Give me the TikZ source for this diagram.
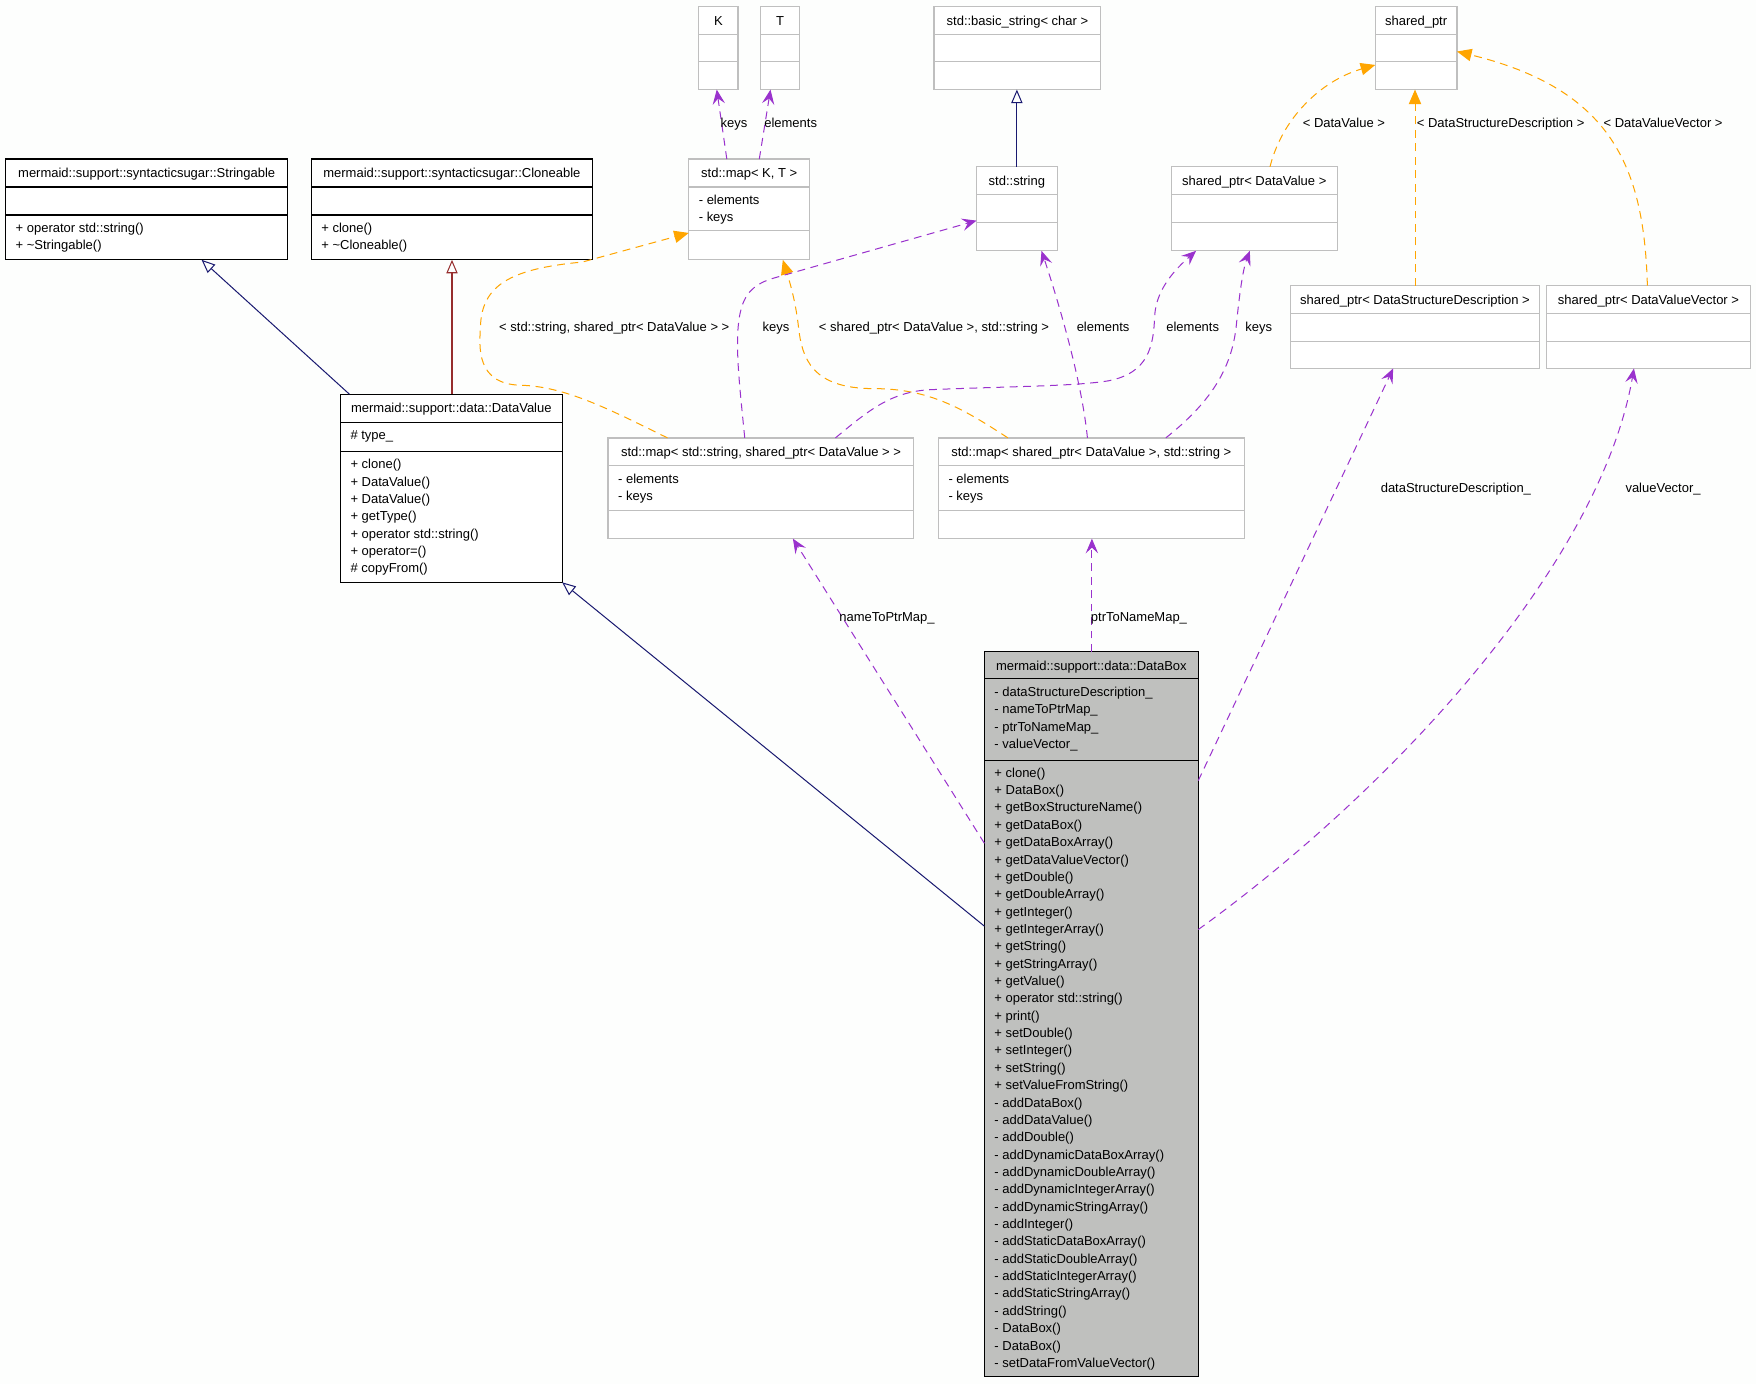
\documentclass[tikz,border=0pt]{standalone}
\usepackage{fontspec}
\setmainfont{Liberation Sans}
\usetikzlibrary{arrows.meta,calc}
\definecolor{bgc}{RGB}{253,254,253}
\definecolor{navyc}{RGB}{25,25,112}
\definecolor{redc}{RGB}{150,45,45}
\definecolor{purplec}{RGB}{154,50,205}
\definecolor{orangec}{RGB}{255,165,0}
\definecolor{greyc}{RGB}{191,191,191}
\definecolor{dbfill}{RGB}{191,192,190}

\tikzset{
  txt/.style={font=\fontsize{11.6}{15.5}\selectfont, inner sep=0pt, outer sep=0pt, text=black},
  blackbox/.style={draw=black, line width=1.1pt, fill=white, inner sep=0pt, outer sep=0pt},
  blackboxsep/.style={draw=black, line width=1.1pt},
  greybox/.style={draw=greyc, line width=1.1pt, fill=white, inner sep=0pt, outer sep=0pt},
  greyboxsep/.style={draw=greyc, line width=1.1pt},
  dbbox/.style={draw=black, line width=1.1pt, fill=dbfill, inner sep=0pt, outer sep=0pt},
  dbboxsep/.style={draw=black, line width=1.1pt},
  inhnavy/.style={draw=navyc, line width=0.9pt, -{Triangle[open, length=12pt, width=10pt]}},
  inhred/.style={draw=redc, line width=0.9pt, -{Triangle[open, length=12pt, width=10pt]}},
  usage/.style={draw=purplec, line width=0.9pt, dash pattern=on 7pt off 5pt, -{Stealth[length=13pt, width=11pt, inset=5pt]}},
  tmpl/.style={draw=orangec, line width=0.9pt, dash pattern=on 7pt off 5pt, -{Triangle[length=13pt, width=11pt]}},
  lbl/.style={txt, anchor=base},
}

% name, style, x1, y1, x2, y2, sep1, sep2, title
\newcommand{\umlclass}[9]{%
  \node[#2, anchor=north west, minimum width={(#5-#3)*1pt}, minimum height={(#6-#4)*1pt}] (#1) at (#3,#4) {};
  \draw[#2sep] (#3,#7) -- (#5,#7) (#3,#8) -- (#5,#8);
  \node[txt, anchor=base] (#1-title) at ({(#3+#5)/2},{#4+16.5}) {#9};
}
% prefix, x, first baseline, list
\newcommand{\umlmembers}[4]{%
  \foreach \mtext [count=\mi from 0] in {#4} {\node[txt, anchor=base west] (#1-\mi) at (#2,{#3+\mi*15.5}) {\mtext};}
}

\begin{document}
\begin{tikzpicture}[x=1pt, y=-1pt]
\useasboundingbox (0,0) rectangle (1568,1236);
\fill[bgc] (0,0) rectangle (1568,1236);

% classes
\umlclass{str}{blackbox}{5}{142}{257}{232}{167}{192}{mermaid::support::syntacticsugar::Stringable}
\umlmembers{strm}{14}{207.5}{+ operator std::string(), + \textasciitilde Stringable()}
\umlclass{cln}{blackbox}{278}{142}{529}{232}{167}{192}{mermaid::support::syntacticsugar::Cloneable}
\umlmembers{clnm}{287}{207.5}{+ clone(), + \textasciitilde Cloneable()}
\umlclass{K}{greybox}{624}{6}{659}{80}{31}{55}{K}
\umlclass{T}{greybox}{679}{6}{714}{80}{31}{55}{T}
\umlclass{bstr}{greybox}{834}{6}{983}{80}{31}{55}{std::basic\_string< char >}
\umlclass{sp}{greybox}{1228}{6}{1301}{80}{31}{55}{shared\_ptr}
\umlclass{mapkt}{greybox}{615}{142}{723}{232}{167}{206}{std::map< K, T >}
\umlmembers{mapktf}{624}{182.5}{- elements, - keys}
\umlclass{stdstr}{greybox}{872}{149}{944}{224}{174}{199}{std::string}
\umlclass{spdv}{greybox}{1046}{149}{1194}{224}{174}{199}{shared\_ptr< DataValue >}
\umlclass{spdsd}{greybox}{1152}{255}{1375}{329}{280}{305}{shared\_ptr< DataStructureDescription >}
\umlclass{spdvv}{greybox}{1381}{255}{1563}{329}{280}{305}{shared\_ptr< DataValueVector >}
\umlclass{dv}{blackbox}{304}{352}{502}{520}{377}{403}{mermaid::support::data::DataValue}
\umlmembers{dvf}{313}{392.5}{\# type\_}
\umlmembers{dvm}{313}{418.5}{+ clone(), + DataValue(), + DataValue(), + getType(), + operator std::string(), + operator=(), \# copyFrom()}
\umlclass{mapsp}{greybox}{543}{391}{816}{481}{416}{456}{std::map< std::string, shared\_ptr< DataValue > >}
\umlmembers{mapspf}{552}{431.5}{- elements, - keys}
\umlclass{mapps}{greybox}{838}{391}{1111}{481}{416}{456}{std::map< shared\_ptr< DataValue >, std::string >}
\umlmembers{mappsf}{847}{431.5}{- elements, - keys}
\umlclass{db}{dbbox}{879}{582}{1070}{1229}{606}{679}{mermaid::support::data::DataBox}
\umlmembers{dbf}{888}{622}{- dataStructureDescription\_, - nameToPtrMap\_, - ptrToNameMap\_, - valueVector\_}
\umlmembers{dbm}{888}{694}{+ clone(), + DataBox(), + getBoxStructureName(), + getDataBox(), + getDataBoxArray(), + getDataValueVector(), + getDouble(), + getDoubleArray(), + getInteger(), + getIntegerArray(), + getString(), + getStringArray(), + getValue(), + operator std::string(), + print(), + setDouble(), + setInteger(), + setString(), + setValueFromString(), - addDataBox(), - addDataValue(), - addDouble(), - addDynamicDataBoxArray(), - addDynamicDoubleArray(), - addDynamicIntegerArray(), - addDynamicStringArray(), - addInteger(), - addStaticDataBoxArray(), - addStaticDoubleArray(), - addStaticIntegerArray(), - addStaticStringArray(), - addString(), - DataBox(), - DataBox(), - setDataFromValueVector()}

% inheritance
\draw[inhnavy] ([xshift=8pt]dv.north west) -- ([xshift=175pt]str.south west);
\draw[inhred] ([xshift=99.6pt]dv.north west) -- ([xshift=125.6pt]cln.south west);
\draw[inhnavy] ([yshift=-245pt]db.north west) -- (dv.south east);
\draw[inhnavy] (stdstr.north) -- (stdstr.north |- bstr.south);

% usage in std::map<K,T>
\draw[usage] ([xshift=34pt]mapkt.north west) -- ([xshift=16pt]K.south west);
\draw[usage] ([xshift=63pt]mapkt.north west) -- ([xshift=9pt]T.south west);

% template instances of shared_ptr
\draw[tmpl] ([xshift=88pt]spdv.north west) .. controls +(11,-44) and +(-48,14) .. ([yshift=-52pt]sp.north west);
\draw[tmpl] (spdsd.north) -- (spdsd.north |- sp.south);
\draw[tmpl] ([xshift=90pt]spdvv.north west) .. controls +(-3,-105) and +(139,34) .. ([yshift=-40pt]sp.north east);

% template instances of std::map
\draw[tmpl] ([xshift=53pt]mapsp.north west) .. controls (545,366) and (505,345) .. (465,344)
   .. controls (425,343) and (428,310) .. (429,292)
   .. controls (430,255) and (455,240) .. (520,234) -- ([yshift=-66pt]mapkt.north west);
\draw[tmpl] ([xshift=62pt]mapps.north west) .. controls (860,365) and (830,347) .. (780,347)
   .. controls (725,347) and (716,320) .. (713,292)
   .. controls (710,265) and (703,245) .. ([xshift=84pt]mapkt.south west);

% usage in the maps
\draw[usage] ([xshift=122pt]mapsp.north west) .. controls (660,340) and (655,300) .. (662,275)
   .. controls (667,258) and (678,252) .. (692,248) -- ([yshift=-48pt]stdstr.north west);
\draw[usage] ([xshift=203pt]mapsp.north west) .. controls (775,367) and (795,350) .. (830,348)
   .. controls (900,345) and (960,345) .. (990,340)
   .. controls (1025,333) and (1030,310) .. (1031,283)
   .. controls (1032,258) and (1050,240) .. ([xshift=22pt]spdv.south west);
\draw[usage] ([xshift=133pt]mapps.north west) .. controls +(-5,-51) and +(15,45) .. ([xshift=58pt]stdstr.south west);
\draw[usage] ([xshift=203pt]mapps.north west) .. controls (1080,360) and (1100,330) .. (1104,290)
   .. controls (1107,260) and (1110,240) .. ([xshift=70pt]spdv.south west);

% usage in DataBox
\draw[usage] ([yshift=-171pt]db.north west) -- ([xshift=165pt]mapsp.south west);
\draw[usage] ([xshift=96pt]db.north west) -- ([xshift=96pt]db.north west |- mapps.south);
\draw[usage] ([yshift=-115pt]db.north east) -- ([xshift=92pt]spdsd.south west);
\draw[usage] ([yshift=-248pt]db.north east) .. controls +(180,-130) and +(-29,170) .. ([xshift=78pt]spdvv.south west);

% labels
\node[lbl] (l1) at (655.5,113.5) {keys};
\node[lbl] (l2) at (706,113.5) {elements};
\node[lbl] (l3) at (1200,113.5) {< DataValue >};
\node[lbl] (l4) at (1340,113.5) {< DataStructureDescription >};
\node[lbl] (l5) at (1485,113.5) {< DataValueVector >};
\node[lbl] (l6) at (548.5,296) {< std::string, shared\_ptr< DataValue > >};
\node[lbl] (l7) at (693,296) {keys};
\node[lbl] (l8) at (834,296) {< shared\_ptr< DataValue >, std::string >};
\node[lbl] (l9) at (985,296) {elements};
\node[lbl] (l10) at (1065,296) {elements};
\node[lbl] (l11) at (1124,296) {keys};
\node[lbl] (l12) at (1300,440) {dataStructureDescription\_};
\node[lbl] (l13) at (1485,440) {valueVector\_};
\node[lbl] (l14) at (792,555) {nameToPtrMap\_};
\node[lbl] (l15) at (1017,555) {ptrToNameMap\_};
\end{tikzpicture}
\end{document}
